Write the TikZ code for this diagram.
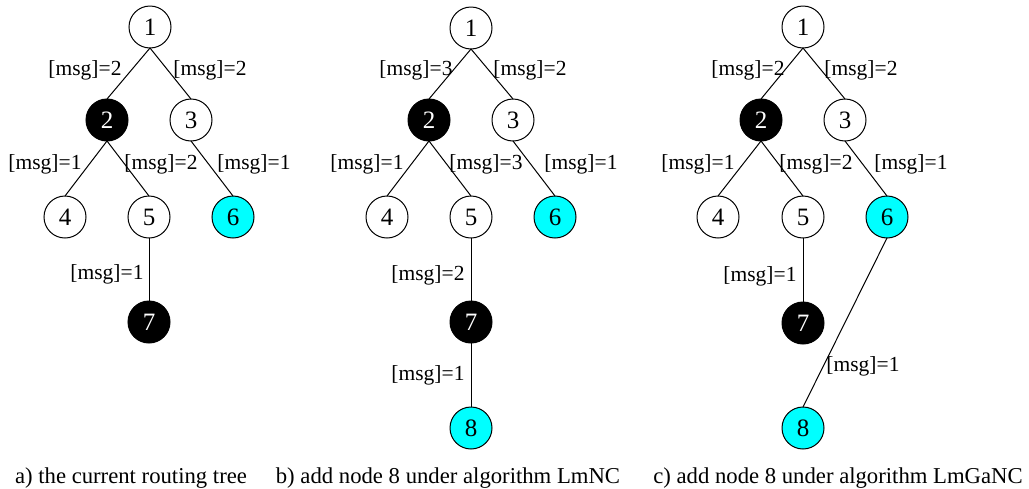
\documentclass[tikz,border=0pt]{standalone}
\usepackage{fontspec}
\setmainfont{Liberation Serif}
\definecolor{aqua}{RGB}{0,255,255}
\begin{document}
\begin{tikzpicture}[x=1pt,y=-1pt,
  every node/.style={inner sep=0pt, outer sep=0pt},
  vtx/.style={circle, draw, line width=1pt, minimum size=42pt, font=\fontsize{25}{28}\selectfont},
  blk/.style={vtx, fill=black, text=white},
  cyn/.style={vtx, fill=aqua},
  lbl/.style={font=\fontsize{21.5}{24}\selectfont},
  captxt/.style={font=\fontsize{22.7}{26}\selectfont, anchor=base},
  edgeline/.style={line width=1pt}]
\useasboundingbox (0,0) rectangle (1029,488);
% ---- tree a
\node[vtx] (a1) at (150,27) {1};
\node[blk] (a2) at (107,120) {2};
\node[vtx] (a3) at (191,120) {3};
\node[vtx] (a4) at (65,217) {4};
\node[vtx] (a5) at (149,217) {5};
\node[cyn] (a6) at (233,217) {6};
\node[blk] (a7) at (149,322) {7};
\draw[edgeline] (a1.south) -- (a2.north);
\draw[edgeline] (a1.south) -- (a3.north);
\draw[edgeline] (a2.south) -- (a4.north);
\draw[edgeline] (a2.south) -- (a5.north);
\draw[edgeline] (a3.south) -- (a6.north);
\draw[edgeline] (a5.south) -- (a7.north);
\node[lbl] (la12) at (85,70) {[msg]=2};
\node[lbl] (la13) at (210,70) {[msg]=2};
\node[lbl] (la24) at (45,164) {[msg]=1};
\node[lbl] (la25) at (161,164) {[msg]=2};
\node[lbl] (la36) at (254,164) {[msg]=1};
\node[lbl] (la57) at (107,274) {[msg]=1};
\node[captxt] (capa) at (131,483) {a) the current routing tree};
% ---- tree b
\node[vtx] (b1) at (471,28) {1};
\node[blk] (b2) at (429,120) {2};
\node[vtx] (b3) at (513,120) {3};
\node[vtx] (b4) at (387,217) {4};
\node[vtx] (b5) at (471,217) {5};
\node[cyn] (b6) at (555,217) {6};
\node[blk] (b7) at (471,322) {7};
\node[cyn] (b8) at (471,428) {8};
\draw[edgeline] (b1.south) -- (b2.north);
\draw[edgeline] (b1.south) -- (b3.north);
\draw[edgeline] (b2.south) -- (b4.north);
\draw[edgeline] (b2.south) -- (b5.north);
\draw[edgeline] (b3.south) -- (b6.north);
\draw[edgeline] (b5.south) -- (b7.north);
\draw[edgeline] (b7.south) -- (b8.north);
\node[lbl] (lb12) at (416,70) {[msg]=3};
\node[lbl] (lb13) at (530,70) {[msg]=2};
\node[lbl] (lb24) at (367,164) {[msg]=1};
\node[lbl] (lb25) at (486,164) {[msg]=3};
\node[lbl] (lb36) at (581,164) {[msg]=1};
\node[lbl] (lb57) at (428,275) {[msg]=2};
\node[lbl] (lb78) at (428,375) {[msg]=1};
\node[captxt] (capb) at (448,483) {b) add node 8 under algorithm LmNC};
% ---- tree c
\node[vtx] (c1) at (803,27) {1};
\node[blk] (c2) at (761,120) {2};
\node[vtx] (c3) at (845,120) {3};
\node[vtx] (c4) at (718,217) {4};
\node[vtx] (c5) at (803,217) {5};
\node[cyn] (c6) at (887,217) {6};
\node[blk] (c7) at (803,323) {7};
\node[cyn] (c8) at (803,428) {8};
\draw[edgeline] (c1.south) -- (c2.north);
\draw[edgeline] (c1.south) -- (c3.north);
\draw[edgeline] (c2.south) -- (c4.north);
\draw[edgeline] (c2.south) -- (c5.north);
\draw[edgeline] (c3.south) -- (c6.north);
\draw[edgeline] (c5.south) -- (c7.north);
\draw[edgeline] (c6.south) -- (c8.north);
\node[lbl] (lc12) at (748,70) {[msg]=2};
\node[lbl] (lc13) at (861,70) {[msg]=2};
\node[lbl] (lc24) at (698,164) {[msg]=1};
\node[lbl] (lc25) at (816,164) {[msg]=2};
\node[lbl] (lc36) at (911,164) {[msg]=1};
\node[lbl] (lc57) at (760,276) {[msg]=1};
\node[lbl] (lc68) at (863,366) {[msg]=1};
\node[captxt] (capc) at (838,483) {c) add node 8 under algorithm LmGaNC};
\end{tikzpicture}
\end{document}
